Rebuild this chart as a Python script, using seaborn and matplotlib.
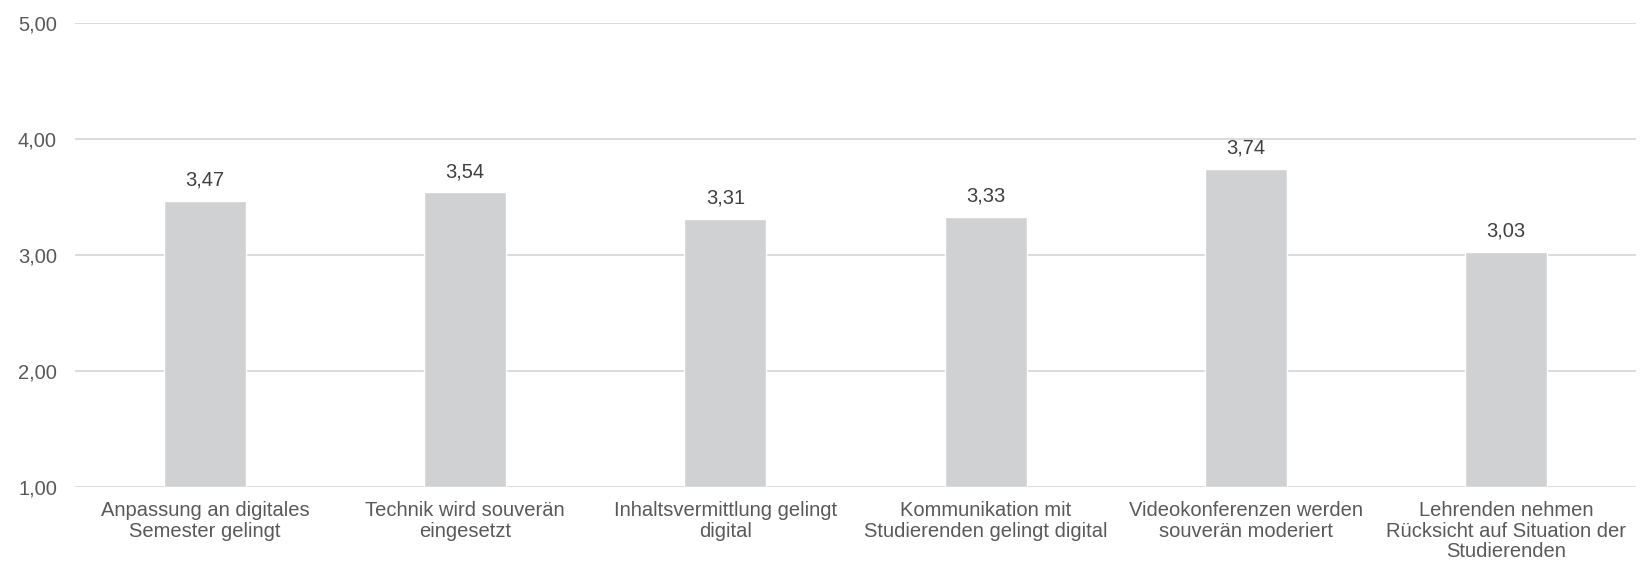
import matplotlib
matplotlib.use("Agg")
import matplotlib.pyplot as plt
import seaborn as sns
import numpy as np

# chart data
categories = [
    "Anpassung an digitales\nSemester gelingt",
    "Technik wird souverän\neingesetzt",
    "Inhaltsvermittlung gelingt\ndigital",
    "Kommunikation mit\nStudierenden gelingt digital",
    "Videokonferenzen werden\nsouverän moderiert",
    "Lehrenden nehmen\nRücksicht auf Situation der\nStudierenden",
]
values = [3.47, 3.54, 3.31, 3.33, 3.74, 3.03]
yticks = [1, 2, 3, 4, 5]

sns.set_style("white")
plt.rcParams["font.family"] = ["Liberation Sans", "DejaVu Sans"]

fig = plt.figure(figsize=(16.47, 5.70), dpi=100)
ax = fig.add_axes([0.0455, 0.1456, 0.9478, 0.814])

# bars start at 1 like the original chart (axis base 1,00)
sns.barplot(x=list(range(len(values))), y=[v - 1 for v in values], bottom=1,
            color="#d0d1d3", width=0.315, saturation=1, ax=ax, zorder=3)

ax.set_ylim(1, 5)
ax.set_xlim(-0.5, len(values) - 0.5)
ax.set_yticks(yticks)
ax.set_yticklabels([f"{t:.2f}".replace(".", ",") for t in yticks],
                   fontsize=14.5, color="#595959")
ax.set_xticks(range(len(categories)))
ax.set_xticklabels(categories, fontsize=14.5, color="#595959", linespacing=1.12)
ax.tick_params(axis="both", length=0)
ax.tick_params(axis="x", pad=10)
ax.tick_params(axis="y", pad=13)
ax.grid(axis="y", color="#d9d9d9", linewidth=1.3, zorder=0)
sns.despine(ax=ax, left=True, bottom=True, top=True, right=True)

for i, v in enumerate(values):
    ax.annotate(f"{v:.2f}".replace(".", ","), (i, v), xytext=(0, 11),
                textcoords="offset points", ha="center", va="baseline",
                fontsize=14.5, color="#404040")

ax.set_xlabel("")
ax.set_ylabel("")
fig.savefig("out.png", dpi=100)
